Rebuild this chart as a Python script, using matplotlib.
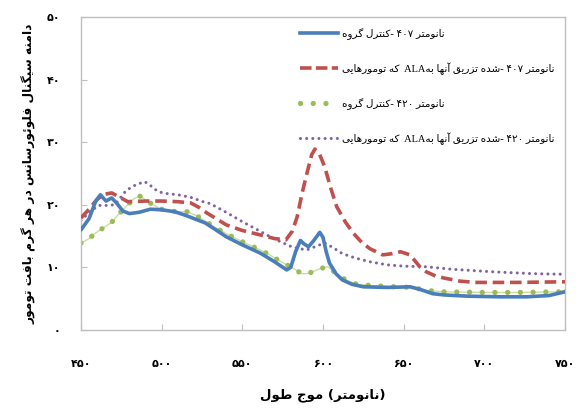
import re
import matplotlib
matplotlib.use("Agg")
import matplotlib.pyplot as plt
from matplotlib.lines import Line2D

# ---------------- data ----------------
x_ctrl_407 = [450, 455, 459, 462, 465.5, 469, 472, 476, 480, 486, 493, 500, 508, 515, 520, 527,
              533, 540, 550, 561, 570, 577.5, 580, 583, 586, 588, 591, 594, 598, 600, 602, 604,
              608, 612, 618, 625, 640, 654, 660, 668, 675, 690, 710, 726, 740, 750]
y_ctrl_407 = [16.0, 17.8, 20.5, 21.6, 20.6, 21.1, 20.3, 19.0, 18.6, 18.8, 19.3, 19.2, 18.9, 18.3,
              17.8, 17.1, 16.1, 14.9, 13.6, 12.3, 10.9, 9.6, 10.0, 12.5, 14.3, 13.8, 13.3, 14.2,
              15.6, 14.8, 12.5, 10.7, 9.0, 8.0, 7.3, 6.9, 6.8, 6.9, 6.5, 5.8, 5.6, 5.4, 5.3, 5.3,
              5.5, 6.1]

x_ala_407 = [450, 455, 460, 465, 469, 474, 479, 490, 500, 510, 518, 523, 528, 535, 540, 550, 561,
             570, 577, 581, 584, 587, 590, 593, 595, 598, 601, 605, 608.5, 614, 619, 624, 629,
             637, 643, 648, 654, 660, 664, 670, 675, 685, 695, 720, 750]
y_ala_407 = [17.9, 19.3, 20.9, 21.7, 21.9, 21.2, 20.5, 20.6, 20.6, 20.5, 20.3, 19.6, 18.7, 17.6,
             16.8, 15.9, 15.2, 14.6, 14.4, 15.8, 18.1, 21.8, 25.0, 28.0, 28.9, 28.0, 26.1, 22.5,
             19.7, 17.2, 15.4, 14.0, 13.0, 12.0, 12.2, 12.5, 12.0, 10.1, 9.3, 8.6, 8.3, 7.8, 7.6,
             7.6, 7.7]

x_ctrl_420 = [450, 455, 458.5, 465.5, 469, 473, 479, 483, 486.4, 490, 493.4, 498, 502, 510, 516,
              522, 527.5, 533, 540, 550, 561, 567, 572, 577.5, 580, 586.8, 590, 593.8, 598, 603,
              606, 610.6, 615, 621, 630, 645, 655, 665, 675, 700, 720, 747, 750]
y_ctrl_420 = [13.9, 14.6, 15.4, 16.6, 17.2, 18.4, 20.0, 21.0, 21.4, 20.8, 20.2, 19.5, 19.1, 18.9,
              18.9, 18.2, 17.3, 16.4, 15.4, 14.1, 12.8, 12.0, 11.2, 10.4, 10.1, 9.0, 9.0, 9.3, 9.8,
              10.1, 9.5, 8.5, 7.9, 7.3, 7.1, 6.9, 6.8, 6.3, 6.1, 6.0, 6.0, 6.1, 6.4]

x_ala_420 = [450, 456, 461, 466, 471, 475, 478, 484, 489.5, 494, 497.7, 503, 510, 518, 526.7, 530,
             540, 550, 558, 565, 572, 579.6, 585, 590, 595, 601, 606, 612, 620, 629, 640, 650,
             664, 680, 705, 730, 750]
y_ala_420 = [17.5, 19.0, 19.9, 19.9, 20.0, 21.3, 22.3, 23.2, 23.7, 22.9, 22.1, 21.8, 21.6, 21.2,
             20.4, 20.2, 18.8, 17.3, 16.2, 15.2, 14.3, 13.4, 13.0, 12.8, 13.3, 13.9, 13.2, 12.2,
             11.5, 10.9, 10.4, 10.2, 10.1, 9.7, 9.3, 9.0, 8.9]

series_labels = [
    "گروه کنترل- ۴۰۷ نانومتر",
    "تومورهایی که  ALAبه آنها تزریق شده- ۴۰۷ نانومتر",
    "گروه کنترل- ۴۲۰ نانومتر",
    "تومورهایی که  ALAبه آنها تزریق شده- ۴۲۰ نانومتر",
]
x_ticks = [450, 500, 550, 600, 650, 700, 750]
x_tick_labels = ["۴۵۰", "۵۰۰", "۵۵۰", "۶۰۰", "۶۵۰", "۷۰۰", "۷۵۰"]
y_ticks = [0, 10, 20, 30, 40, 50]
y_tick_labels = ["۰", "۱۰", "۲۰", "۳۰", "۴۰", "۵۰"]
x_title = "طول موج (نانومتر)"
y_title = "دامنه سیگنال فلوئورسانس در هر گرم بافت تومور"

# ------------- Arabic-script shaping (contextual forms) -------------
FORMS = {
    '\u0627': ('\uFE8D', '\uFE8E', None, None),
    '\u0622': ('\uFE81', '\uFE82', None, None),
    '\u0628': ('\uFE8F', '\uFE90', '\uFE91', '\uFE92'),
    '\u067E': ('\uFB56', '\uFB57', '\uFB58', '\uFB59'),
    '\u062A': ('\uFE95', '\uFE96', '\uFE97', '\uFE98'),
    '\u062B': ('\uFE99', '\uFE9A', '\uFE9B', '\uFE9C'),
    '\u062C': ('\uFE9D', '\uFE9E', '\uFE9F', '\uFEA0'),
    '\u0686': ('\uFB7A', '\uFB7B', '\uFB7C', '\uFB7D'),
    '\u062D': ('\uFEA1', '\uFEA2', '\uFEA3', '\uFEA4'),
    '\u062E': ('\uFEA5', '\uFEA6', '\uFEA7', '\uFEA8'),
    '\u062F': ('\uFEA9', '\uFEAA', None, None),
    '\u0630': ('\uFEAB', '\uFEAC', None, None),
    '\u0631': ('\uFEAD', '\uFEAE', None, None),
    '\u0632': ('\uFEAF', '\uFEB0', None, None),
    '\u0698': ('\uFB8A', '\uFB8B', None, None),
    '\u0633': ('\uFEB1', '\uFEB2', '\uFEB3', '\uFEB4'),
    '\u0634': ('\uFEB5', '\uFEB6', '\uFEB7', '\uFEB8'),
    '\u0635': ('\uFEB9', '\uFEBA', '\uFEBB', '\uFEBC'),
    '\u0636': ('\uFEBD', '\uFEBE', '\uFEBF', '\uFEC0'),
    '\u0637': ('\uFEC1', '\uFEC2', '\uFEC3', '\uFEC4'),
    '\u0638': ('\uFEC5', '\uFEC6', '\uFEC7', '\uFEC8'),
    '\u0639': ('\uFEC9', '\uFECA', '\uFECB', '\uFECC'),
    '\u063A': ('\uFECD', '\uFECE', '\uFECF', '\uFED0'),
    '\u0641': ('\uFED1', '\uFED2', '\uFED3', '\uFED4'),
    '\u0642': ('\uFED5', '\uFED6', '\uFED7', '\uFED8'),
    '\u0643': ('\uFED9', '\uFEDA', '\uFEDB', '\uFEDC'),
    '\u06A9': ('\uFB8E', '\uFB8F', '\uFB90', '\uFB91'),
    '\u06AF': ('\uFB92', '\uFB93', '\uFB94', '\uFB95'),
    '\u0644': ('\uFEDD', '\uFEDE', '\uFEDF', '\uFEE0'),
    '\u0645': ('\uFEE1', '\uFEE2', '\uFEE3', '\uFEE4'),
    '\u0646': ('\uFEE5', '\uFEE6', '\uFEE7', '\uFEE8'),
    '\u0647': ('\uFEE9', '\uFEEA', '\uFEEB', '\uFEEC'),
    '\u0648': ('\uFEED', '\uFEEE', None, None),
    '\u064A': ('\uFEF1', '\uFEF2', '\uFEF3', '\uFEF4'),
    '\u06CC': ('\uFBFC', '\uFBFD', '\uFBFE', '\uFBFF'),
    '\u0626': ('\uFE89', '\uFE8A', '\uFE8B', '\uFE8C'),
}


def shape(s):
    out = []
    for i, c in enumerate(s):
        if c not in FORMS:
            out.append(c)
            continue
        prev = s[i - 1] if i > 0 else None
        nxt = s[i + 1] if i + 1 < len(s) else None
        jp = prev in FORMS and FORMS[prev][2] is not None
        jn = FORMS[c][2] is not None and nxt in FORMS
        f = FORMS[c]
        out.append(f[3] if (jp and jn) else f[1] if jp else f[2] if jn else f[0])
    return ''.join(out)


def words_ltr(s):
    # each word drawn right-to-left, words kept in their written order (as in the source image)
    return re.sub('[\uFB50-\uFEFF]+', lambda m: m.group(0)[::-1], shape(s))


def full_rtl(s):
    return shape(s)[::-1]


# ---------------- figure ----------------
W, H = 579, 412
fig = plt.figure(figsize=(W / 100, H / 100), dpi=100)
ax = fig.add_axes([81 / W, 82 / H, 484 / W, 313 / H])

blue, red, green, purple = '#4A7EBB', '#C0504D', '#9BBB59', '#8064A2'

ax.plot(x_ctrl_407, y_ctrl_407, color=blue, lw=2.6, solid_capstyle='round', zorder=4)
ax.plot(x_ala_407, y_ala_407, color=red, lw=2.6, dashes=(3.2, 1.6), zorder=3)
ax.plot(x_ctrl_420, y_ctrl_420, color='#C9DDA0', lw=1.0, zorder=2)
ax.plot(x_ctrl_420, y_ctrl_420, color=green, lw=3.8, dashes=(0.01, 2.4),
        dash_capstyle='round', zorder=2)
ax.plot(x_ala_420, y_ala_420, color=purple, lw=2.2, dashes=(0.01, 2.0),
        dash_capstyle='round', zorder=1)

ax.set_xlim(450, 750)
ax.set_ylim(0, 50)
ax.set_xticks(x_ticks)
ax.set_yticks(y_ticks)

tick_font = dict(family=['DejaVu Sans'], weight='bold', size=8)
ax.set_xticklabels(x_tick_labels, fontdict=tick_font)
ax.set_yticklabels(y_tick_labels, fontdict=tick_font)
ax.tick_params(axis='x', direction='in', length=4, color='#BFBFBF', pad=21)
ax.tick_params(axis='y', direction='in', length=4, color='#BFBFBF', pad=15)
for sp in ax.spines.values():
    sp.set_color('#BFBFBF')
    sp.set_linewidth(1.0)

ax.set_xlabel(words_ltr(x_title), family=['DejaVu Sans'], weight='bold', size=9.5, labelpad=14)
ax.set_ylabel(full_rtl(y_title), family=['DejaVu Sans'], weight='bold', size=8.8, labelpad=7)

handles = [
    Line2D([], [], color=blue, lw=2.6),
    Line2D([], [], color=red, lw=2.6, dashes=(3.2, 1.2)),
    Line2D([], [], color=green, lw=3.8, dashes=(0.01, 2.4), dash_capstyle='round'),
    Line2D([], [], color=purple, lw=2.2, dashes=(0.01, 2.0), dash_capstyle='round'),
]
ax.legend(handles, [words_ltr(s) for s in series_labels], loc='upper left',
          bbox_to_anchor=(0.43, 1.0), frameon=False, handlelength=3.6, handletextpad=0.4,
          labelspacing=2.18, borderaxespad=0.65,
          prop=dict(family=['Liberation Serif', 'DejaVu Sans'], size=7.5))

fig.savefig('out.png', dpi=100)
